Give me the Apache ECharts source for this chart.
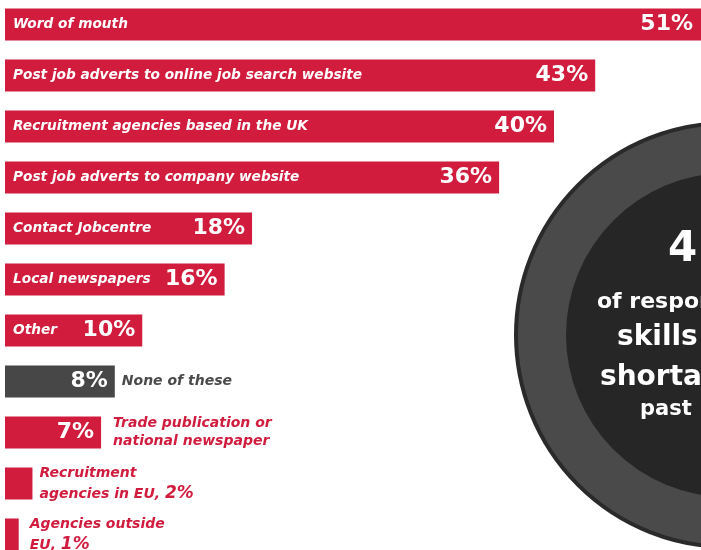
<!DOCTYPE html>
<html><head><meta charset="utf-8">
<script src="https://cdn.jsdelivr.net/npm/echarts@6/dist/echarts.min.js"></script>
<style>html,body{margin:0;padding:0;background:#fff}#c{width:701px;height:550px}</style>
</head><body><div id="c"></div>
<script>
const categories = ["Word of mouth","Post job adverts to online job search website","Recruitment agencies based in the UK","Post job adverts to company website","Contact Jobcentre","Local newspapers","Other","None of these","Trade publication or national newspaper","Recruitment agencies in EU","Agencies outside EU"];
const values = [51,43,40,36,18,16,10,8,7,2,1];
const insideLabels = ["Word of mouth","Post job adverts to online job search website","Recruitment agencies based in the UK","Post job adverts to company website","Contact Jobcentre","Local newspapers","Other","","","",""];
const circleLines = ["4","of respondents","skills","shortages","past"];

const RED = '#d11c3e', DARK = '#474747';
const FONT = 'DejaVu Sans';

const barData = values.map((v,i)=>{
  const item = {value:v, itemStyle:{color: i===7 ? DARK : RED}};
  item.label = {show: !!insideLabels[i], position:'insideLeft', distance:8, formatter: insideLabels[i],
    color:'#fff', fontFamily:FONT, fontWeight:'bold', fontStyle:'italic', fontSize:13.7};
  return item;
});
const pctData = values.map((v,i)=>{
  const item = {value:v};
  if (i<=8) {
    item.label = {show:true, position:'insideRight', distance: i===0 ? 12 : 7, formatter: v+'%', color:'#fff',
      fontFamily:FONT, fontWeight:'bold', fontSize:22};
  } else {
    item.label = {show:false};
  }
  return item;
});
const outData = values.map((v,i)=>{
  const item = {value:v, label:{show:false}};
  const base = {show:true, position:'right', fontFamily:FONT, fontWeight:'bold', fontStyle:'italic', fontSize:14, align:'left'};
  const pStyle = {p:{fontFamily:FONT, fontStyle:'italic', fontWeight:'bold', fontSize:17, color:RED}};
  if (i===7) item.label = Object.assign({}, base, {distance:7, formatter:categories[7], color:'#4a4a4a'});
  if (i===8) item.label = Object.assign({}, base, {distance:12, formatter:'Trade publication or\nnational newspaper', color:RED, lineHeight:18});
  if (i===9) item.label = Object.assign({}, base, {distance:7, formatter:'Recruitment\nagencies in EU, {p|'+v+'%}', color:RED, lineHeight:21, rich:pStyle});
  if (i===10) item.label = Object.assign({}, base, {distance:11, formatter:'Agencies outside\nEU, {p|'+v+'%}', color:RED, lineHeight:21, rich:pStyle});
  return item;
});

const chart = echarts.init(document.getElementById('c'), null, {renderer:'canvas'});
const cx = 728, cy = 335;
const cf = '"DejaVu Sans"';
chart.setOption({
  animation:false,
  grid:{left:5, top:-1, width:700, height:561, containLabel:false, outerBoundsMode:'none'},
  xAxis:{type:'value', min:0, max:51, show:false},
  yAxis:{type:'category', data:categories, inverse:true, show:false},
  series:[
    {type:'bar', data:barData, barWidth:32, barGap:'-100%', z:2},
    {type:'bar', data:pctData, barWidth:32, barGap:'-100%', itemStyle:{color:'rgba(0,0,0,0)'}, z:3},
    {type:'bar', data:outData, barWidth:32, barGap:'-100%', itemStyle:{color:'rgba(0,0,0,0)'}, z:3}
  ],
  graphic:[
    {type:'circle', shape:{cx:cx, cy:cy, r:212}, style:{fill:'#4a4a4a', stroke:'#2a2a2a', lineWidth:4}, z:1},
    {type:'circle', shape:{cx:cx, cy:cy, r:162}, style:{fill:'#262626'}, z:1},
    {type:'text', style:{x:668, y:250, verticalAlign:'middle', text:circleLines[0], fill:'#fff', font:'bold 42px '+cf}, z:2},
    {type:'text', style:{x:597, y:302, verticalAlign:'middle', text:circleLines[1], fill:'#fff', font:'bold 22px '+cf}, z:2},
    {type:'text', style:{x:617, y:338, verticalAlign:'middle', text:circleLines[2], fill:'#fff', font:'bold 28px '+cf}, z:2},
    {type:'text', style:{x:600, y:378, verticalAlign:'middle', text:circleLines[3], fill:'#fff', font:'bold 28px '+cf}, z:2},
    {type:'text', style:{x:640, y:410, verticalAlign:'middle', text:circleLines[4], fill:'#fff', font:'bold 21px '+cf}, z:2}
  ]
});
</script></body></html>
